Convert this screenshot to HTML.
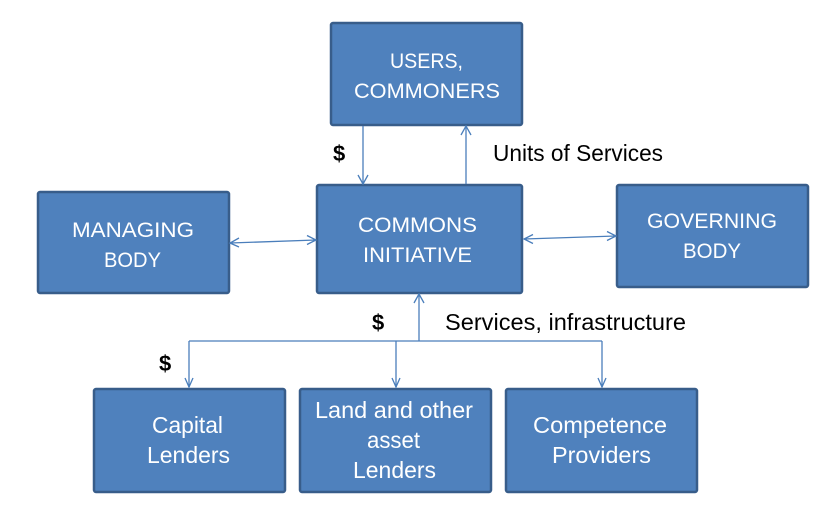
<!DOCTYPE html>
<html>
<head>
<meta charset="utf-8">
<style>
html,body{margin:0;padding:0;background:#fff;}
svg{display:block;}
.box{fill:#4F81BD;stroke:#385D8A;stroke-width:2.5;}
.bt{font-family:"Liberation Sans",sans-serif;font-size:21px;fill:#fff;text-anchor:middle;}
.bm{font-family:"Liberation Sans",sans-serif;font-size:23px;fill:#fff;text-anchor:middle;}
.lt{font-family:"Liberation Sans",sans-serif;font-size:23px;fill:#000;}
.dl{font-family:"Liberation Sans",sans-serif;font-size:22px;font-weight:bold;fill:#000;}
.ln{stroke:#4A7EBB;stroke-width:1.3;fill:none;}
</style>
</head>
<body>
<svg width="838" height="523" viewBox="0 0 838 523" xmlns="http://www.w3.org/2000/svg">
  <!-- boxes -->
  <rect class="box" x="331" y="23" width="191" height="102" rx="2"/>
  <rect class="box" x="317" y="185" width="205" height="108" rx="2"/>
  <rect class="box" x="38" y="192" width="191" height="101" rx="2"/>
  <rect class="box" x="617" y="185" width="191" height="102" rx="2"/>
  <rect class="box" x="94" y="389" width="191" height="103" rx="2"/>
  <rect class="box" x="300" y="389" width="191" height="103" rx="2"/>
  <rect class="box" x="506" y="389" width="191" height="103" rx="2"/>

  <!-- box text -->
  <text class="bt" x="426.5" y="68" textLength="73" lengthAdjust="spacingAndGlyphs">USERS,</text>
  <text class="bt" x="427" y="98" textLength="146" lengthAdjust="spacingAndGlyphs">COMMONERS</text>
  <text class="bt" x="417.5" y="232" textLength="119" lengthAdjust="spacingAndGlyphs">COMMONS</text>
  <text class="bt" x="417.5" y="262" textLength="109" lengthAdjust="spacingAndGlyphs">INITIATIVE</text>
  <text class="bt" x="133" y="237" textLength="122" lengthAdjust="spacingAndGlyphs">MANAGING</text>
  <text class="bt" x="132.5" y="267" textLength="57" lengthAdjust="spacingAndGlyphs">BODY</text>
  <text class="bt" x="712" y="228" textLength="130" lengthAdjust="spacingAndGlyphs">GOVERNING</text>
  <text class="bt" x="712" y="258" textLength="58" lengthAdjust="spacingAndGlyphs">BODY</text>
  <text class="bm" x="187.5" y="433" textLength="71" lengthAdjust="spacingAndGlyphs">Capital</text>
  <text class="bm" x="188.5" y="463" textLength="83" lengthAdjust="spacingAndGlyphs">Lenders</text>
  <text class="bm" x="394" y="418" textLength="158" lengthAdjust="spacingAndGlyphs">Land and other</text>
  <text class="bm" x="393.5" y="448" textLength="53" lengthAdjust="spacingAndGlyphs">asset</text>
  <text class="bm" x="394.5" y="478" textLength="83" lengthAdjust="spacingAndGlyphs">Lenders</text>
  <text class="bm" x="600" y="433" textLength="134" lengthAdjust="spacingAndGlyphs">Competence</text>
  <text class="bm" x="601.5" y="463" textLength="99" lengthAdjust="spacingAndGlyphs">Providers</text>

  <!-- connectors -->
  <line class="ln" x1="363" y1="126" x2="363" y2="184"/>
  <polyline class="ln" points="358,175 363,184 368,175"/>
  <line class="ln" x1="466" y1="184" x2="466" y2="126"/>
  <polyline class="ln" points="461,135 466,126 471,135"/>

  <line class="ln" x1="230" y1="243" x2="316" y2="240"/>
  <polyline class="ln" points="239,238 230,243 239,247"/>
  <polyline class="ln" points="307,235.5 316,240 307,244.5"/>

  <line class="ln" x1="524" y1="239" x2="616" y2="236"/>
  <polyline class="ln" points="533,234.5 524,239 533,243.5"/>
  <polyline class="ln" points="607,231.5 616,236 607,240.5"/>

  <line class="ln" x1="419" y1="341" x2="419" y2="294"/>
  <polyline class="ln" points="414,303 419,294 424,303"/>
  <line class="ln" x1="189" y1="341" x2="602" y2="341"/>
  <line class="ln" x1="189" y1="341" x2="189" y2="387"/>
  <polyline class="ln" points="185,378 189,387 193,378"/>
  <line class="ln" x1="396" y1="341" x2="396" y2="387"/>
  <polyline class="ln" points="392,378 396,387 400,378"/>
  <line class="ln" x1="602" y1="341" x2="602" y2="387"/>
  <polyline class="ln" points="598,378 602,387 606,378"/>

  <!-- labels -->
  <text class="dl" x="333" y="161">$</text>
  <text class="lt" x="493" y="161" textLength="170" lengthAdjust="spacingAndGlyphs">Units of Services</text>
  <text class="dl" x="372" y="330">$</text>
  <text class="lt" x="445" y="330" textLength="241" lengthAdjust="spacingAndGlyphs">Services, infrastructure</text>
  <text class="dl" x="159" y="371">$</text>
</svg>
</body>
</html>
